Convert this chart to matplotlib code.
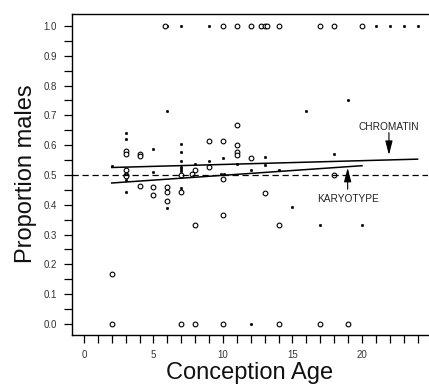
import matplotlib
matplotlib.use("Agg")
import matplotlib.pyplot as plt
import numpy as np

plt.rcParams['font.family'] = ['Liberation Sans', 'DejaVu Sans']

# Filled dots (chromatin)
FilledAge = [6, 7, 9, 21, 22, 23, 24,
             12,
             2,
             3, 3, 3, 3, 3,
             5, 5,
             6, 6,
             7, 7, 7, 7, 7, 7, 7,
             8, 9, 10, 9.85, 10.05, 11, 12, 13, 13, 14,
             15, 16, 17, 18, 19, 20]
FilledProp = [1.0, 1.0, 1.0, 1.0, 1.0, 1.0, 1.0,
              0.0,
              0.531,
              0.641, 0.622, 0.521, 0.484, 0.443,
              0.587, 0.509,
              0.714, 0.388,
              0.605, 0.577, 0.546, 0.528, 0.520, 0.513, 0.455,
              0.537, 0.546, 0.556, 0.502, 0.502, 0.538, 0.515, 0.559, 0.532, 0.517,
              0.393, 0.714, 0.333, 0.571, 0.750, 0.333]

# Open circles (karyotype)
OpenAge = [5.8, 10, 11, 12, 12.75, 13, 13.2, 14, 17, 18, 20,
           2, 7, 8, 10, 14, 17, 19,
           2,
           3, 3, 3, 3, 3,
           4, 4, 4,
           5, 5,
           6, 6, 6,
           7, 7,
           7.8, 8, 8,
           9, 9,
           10, 10, 10,
           11, 11, 11, 11,
           12, 13, 14, 18]
OpenProp = [1.0, 1.0, 1.0, 1.0, 1.0, 1.0, 1.0, 1.0, 1.0, 1.0, 1.0,
            0.0, 0.0, 0.0, 0.0, 0.0, 0.0, 0.0,
            0.167,
            0.580, 0.571, 0.515, 0.500, 0.495,
            0.571, 0.563, 0.464,
            0.458, 0.432,
            0.458, 0.443, 0.414,
            0.500, 0.444,
            0.502, 0.515, 0.333,
            0.615, 0.527,
            0.615, 0.488, 0.364,
            0.667, 0.600, 0.576, 0.566,
            0.556, 0.440, 0.333, 0.500]

# Fitted lines (end points)
ChromatinX = [2, 24]
ChromatinY = [0.525, 0.553]
KaryotypeX = [2, 20]
KaryotypeY = [0.473, 0.531]

fig = plt.figure(figsize=(4.29, 3.86), dpi=100)
ax = fig.add_axes([72/429, 51/386, 356/429, 321/386])

ax.plot(FilledAge, FilledProp, "o", ms=1.9, color="black", mec="black", mew=0.3, ls="none")
ax.plot(OpenAge, OpenProp, "o", ms=3.4, mfc="white", mec="black", mew=0.8, ls="none")

ax.plot(ChromatinX, ChromatinY, color="black", lw=1.1)
ax.plot(KaryotypeX, KaryotypeY, color="black", lw=1.1)
ax.axhline(0.5, color="black", lw=0.9, ls=(0, (5, 3)))

# Arrows and labels
ax.text(21.94, 0.661, "CHROMATIN", fontsize=7.3, ha="center", va="center", color="#222222")
ax.annotate("", xy=(21.94, 0.567), xytext=(21.94, 0.642),
            arrowprops=dict(arrowstyle="-|>,head_length=0.85,head_width=0.22",
                            lw=0.8, color="black", shrinkA=0, shrinkB=0, mutation_scale=10))
ax.text(18.97, 0.419, "KARYOTYPE", fontsize=7.3, ha="center", va="center", color="#222222")
ax.annotate("", xy=(18.97, 0.524), xytext=(18.97, 0.452),
            arrowprops=dict(arrowstyle="-|>,head_length=0.85,head_width=0.22",
                            lw=0.8, color="black", shrinkA=0, shrinkB=0, mutation_scale=10))

ax.set_xlim(-0.86, 24.75)
ax.set_ylim(-0.037, 1.040)

ax.set_xticks(np.arange(0, 25, 1))
ax.set_xticklabels([str(v) if v % 5 == 0 else "" for v in range(25)])
yt = np.arange(0, 1.001, 0.05)
ax.set_yticks(yt)
ax.set_yticklabels(["%.1f" % v if i % 2 == 0 else "" for i, v in enumerate(yt)])
ax.tick_params(direction="out", length=6, width=0.9, labelsize=7, colors="black",
               labelcolor="#333333", pad=5)

ax.spines["right"].set_visible(False)
for s in ["left", "top", "bottom"]:
    ax.spines[s].set_linewidth(1.0)

fig.text(26/429, 1 - 174/386, "Proportion males", rotation=90, ha="center", va="center",
         fontsize=17, color="#111111")
fig.text(250/429, 1 - 373/386, "Conception Age", ha="center", va="center",
         fontsize=17, color="#111111")

plt.savefig("out.png", dpi=100)
